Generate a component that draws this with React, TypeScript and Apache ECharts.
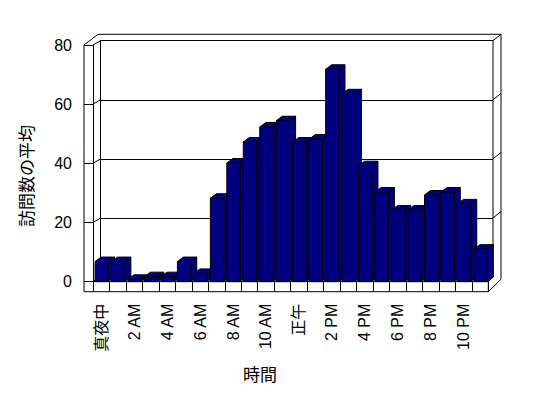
import React, { useEffect, useRef } from "react";
import * as echarts from "echarts";

const categories = [
  "真夜中", "1 AM", "2 AM", "3 AM", "4 AM", "5 AM", "6 AM", "7 AM", "8 AM", "9 AM", "10 AM", "11 AM",
  "正午", "1 PM", "2 PM", "3 PM", "4 PM", "5 PM", "6 PM", "7 PM", "8 PM", "9 PM", "10 PM", "11 PM",
];
const visits = [
  6.8, 6.8, 0.8, 1.7, 1.7, 6.8, 2.8, 28.2, 40.1, 47.2, 52.3, 54.4,
  47.2, 48.2, 71.8, 63.5, 39.2, 30.3, 24.2, 24.2, 29.3, 30.3, 26.3, 11,
];
const yTicks = [0, 20, 40, 60, 80];
const yTitle = "訪問数の平均";
const xTitle = "時間";

const FONT = "'Liberation Sans', 'Noto Sans CJK JP', sans-serif";
const NAVY = "#000080";

// layout (pixels)
const W = 548, H = 398;
const F_L = 93, F_R = 488.3, F_T = 45, F_B = 281.7; // front plane
const B_L = 100.5, B_R = 493, B_T = 40.7, B_B = 277; // back plane
const OUT_L = 84, OUT_R = 501, OUT_T = 34.3, FLOOR_B = 291.7;
const DX = 6, DY = -4.5; // bar depth

export default function App() {
  const ref = useRef<HTMLDivElement>(null);
  useEffect(() => {
    if (!ref.current) return;
    const chart = echarts.init(ref.current, null, { renderer: "svg" });
    const yMax = yTicks[yTicks.length - 1];
    const yF = (v: number) => F_B - (v / yMax) * (F_B - F_T);
    const yB = (v: number) => B_B - (v / yMax) * (B_B - B_T);
    const ln = (x1: number, y1: number, x2: number, y2: number) => ({
      type: "line",
      shape: { x1, y1, x2, y2 },
      style: { stroke: "#000", lineWidth: 1 },
      silent: true,
    });
    const frame: any[] = [
      ln(OUT_L, F_T, OUT_L, FLOOR_B),
      ln(OUT_L, F_T, B_L - 2.5, OUT_T),
      ln(B_L - 2.5, OUT_T, OUT_R, OUT_T),
      ln(OUT_R, OUT_T, OUT_R, FLOOR_B - 12.4),
      ln(B_R, B_T, B_R, B_B),
      ln(OUT_L, FLOOR_B, F_R, FLOOR_B),
      ln(F_R, F_B, F_R, FLOOR_B),
      ln(F_R, FLOOR_B, OUT_R, FLOOR_B - 12.4),
      ln(F_R, F_B, B_R, B_B),
      ln(F_L, F_B, B_L, B_B),
    ];
    yTicks.forEach((v) => {
      if (v === 0) return;
      frame.push(ln(F_L, yF(v), B_L, yB(v)));
      frame.push(ln(B_R, yB(v), OUT_R, yB(v) - 6.4));
    });
    frame.push({
      type: "text",
      x: 27.5,
      y: 176,
      rotation: Math.PI / 2,
      style: { text: yTitle, font: `17px ${FONT}`, fill: "#000", textAlign: "center", textVerticalAlign: "middle" },
    });
    frame.push({
      type: "text",
      x: 260,
      y: 375,
      style: { text: xTitle, font: `17px ${FONT}`, fill: "#000", textAlign: "center", textVerticalAlign: "middle" },
    });

    chart.setOption({
      animation: false,
      backgroundColor: "#fff",
      grid: [
        { left: F_L, right: W - F_R, top: F_T, bottom: H - F_B },
        { left: B_L, right: W - B_R, top: B_T, bottom: H - B_B },
      ],
      xAxis: [
        {
          type: "category",
          gridIndex: 0,
          data: categories,
          boundaryGap: true,
          axisLine: { show: true, lineStyle: { color: "#000", width: 1 } },
          axisTick: { show: true, interval: 0, length: 10, lineStyle: { color: "#000" } },
          axisLabel: { interval: 1, rotate: 90, margin: 22, fontSize: 16, color: "#000", fontFamily: FONT },
          splitLine: { show: false },
        },
        {
          type: "category",
          gridIndex: 1,
          data: categories,
          show: false,
        },
      ],
      yAxis: [
        {
          type: "value",
          gridIndex: 0,
          min: 0,
          max: 80,
          interval: 20,
          axisLine: { show: true, lineStyle: { color: "#000", width: 1 } },
          axisTick: { show: true, length: 9, lineStyle: { color: "#000" } },
          axisLabel: { margin: 21, fontSize: 16, color: "#000", fontFamily: FONT },
          splitLine: { show: false },
        },
        {
          type: "value",
          gridIndex: 1,
          min: 0,
          max: 80,
          interval: 20,
          axisLine: { show: true, lineStyle: { color: "#000", width: 1 } },
          axisTick: { show: false },
          axisLabel: { show: false },
          splitLine: { show: true, lineStyle: { color: "#000", width: 1 } },
        },
      ],
      graphic: frame,
      series: [
        {
          type: "custom",
          xAxisIndex: 0,
          yAxisIndex: 0,
          z: 5,
          data: visits.map((v, i) => [i, v]),
          encode: { x: 0, y: 1 },
          renderItem: (params: any, api: any) => {
            const i = api.value(0);
            const v = api.value(1);
            const top = api.coord([i, v]);
            const base = api.coord([i, 0]);
            const band = api.size([1, 0])[0];
            const w = band * 0.81;
            const x0 = top[0] - w / 2 + 0.5;
            const x1 = x0 + w;
            const yt = top[1];
            const yb = base[1];
            const style = { fill: NAVY, stroke: "#000", lineWidth: 1 };
            return {
              type: "group",
              children: [
                {
                  type: "polygon",
                  shape: { points: [[x1, yt], [x1 + DX, yt + DY], [x1 + DX, yb + DY], [x1, yb]] },
                  style,
                },
                {
                  type: "polygon",
                  shape: { points: [[x0, yt], [x1, yt], [x1 + DX, yt + DY], [x0 + DX, yt + DY]] },
                  style,
                },
                {
                  type: "rect",
                  shape: { x: x0, y: yt, width: w, height: yb - yt },
                  style,
                },
              ],
            };
          },
        },
      ],
    });
    return () => chart.dispose();
  }, []);
  return (
    <div
      ref={ref}
      style={{ position: "absolute", left: 0, top: 0, width: W, height: H, background: "#fff" }}
    />
  );
}
